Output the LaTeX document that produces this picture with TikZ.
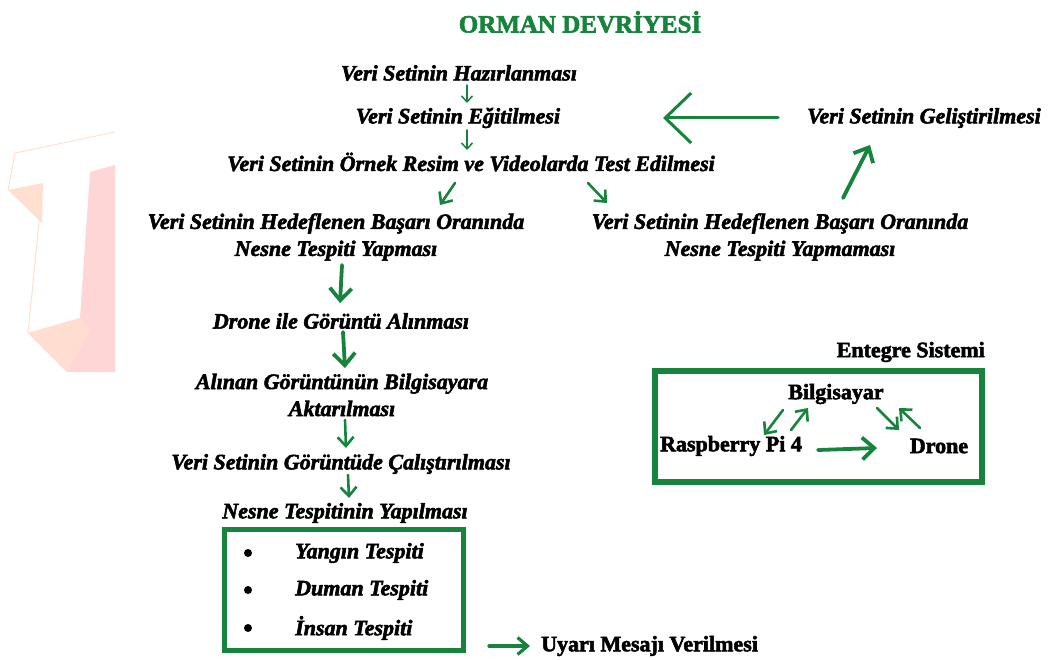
\documentclass[tikz,border=0pt]{standalone}
\usepackage{fontspec}
\setmainfont{Liberation Serif}[BoldFeatures={FakeBold=2.4},BoldItalicFeatures={FakeBold=2.4}]
\usetikzlibrary{arrows.meta,calc}
\definecolor{dgreen}{RGB}{22,132,60}
\definecolor{wmpink}{RGB}{255,214,214}
\definecolor{wmpeach}{RGB}{255,224,208}
\begin{document}
\begin{tikzpicture}[x=1pt,y=-1pt,
  txt/.style={font=\fontsize{22}{27}\selectfont\bfseries\itshape, inner sep=0pt, align=center},
  utxt/.style={font=\fontsize{22}{27}\selectfont\bfseries, inner sep=0pt},
  thinarr/.style={draw=dgreen, line width=1.5pt, line cap=round, -{Straight Barb[length=6pt,width=11pt]}},
  medarr/.style={draw=dgreen, line width=2.6pt, line cap=round, -{Straight Barb[length=9pt,width=16pt]}},
  thickarr/.style={draw=dgreen, line width=3.8pt, line cap=round, -{Straight Barb[length=12pt,width=22pt]}},
  bigarr/.style={draw=dgreen, line width=3pt, line cap=round, -{Straight Barb[length=26pt,width=50pt]}},
  gbox/.style={draw=dgreen, inner sep=0pt},
  bul/.style={circle, fill=black, inner sep=0pt, minimum size=8pt}
]
\useasboundingbox (0,0) rectangle (1051,660);
% watermark
\fill[wmpink] (90,172) -- (115,165) -- (115,372) -- (67,372) -- (28,333) -- (80,318) -- cycle;
\fill[wmpeach] (8,190) -- (43,183) -- (42,223) -- cycle;
\fill[wmpeach, opacity=0.8] (28,333) -- (80,318) -- (90,330) -- (67,372) -- cycle;
\draw[wmpeach, line width=1pt] (8,190) -- (15,153) -- (115,132);
\draw[wmpeach, line width=1pt] (43,183) -- (28,333);

% title
\node[utxt, text=dgreen, font=\fontsize{25}{30}\selectfont\bfseries] (title) at (580,22) {ORMAN DEVRİYESİ};

% main flow
\node[txt] (n1) at (459,73) {Veri Setinin Hazırlanması};
\node[txt] (n2) at (458,118) {Veri Setinin Eğitilmesi};
\node[txt] (n3) at (471,162) {Veri Setinin Örnek Resim ve Videolarda Test Edilmesi};
\node[txt] (L) at (336,237) {Veri Setinin Hedeflenen Başarı Oranında\\Nesne Tespiti Yapması};
\node[txt] (R) at (780,237) {Veri Setinin Hedeflenen Başarı Oranında\\Nesne Tespiti Yapmaması};
\node[txt] (D) at (341,321) {Drone ile Görüntü Alınması};
\node[txt] (A) at (342,395) {Alınan Görüntünün Bilgisayara\\Aktarılması};
\node[txt] (C) at (341,464) {Veri Setinin Görüntüde Çalıştırılması};
\node[txt] (N) at (345,513) {Nesne Tespitinin Yapılması};
\node[txt] (G) at (924,118) {Veri Setinin Geliştirilmesi};

\draw[thinarr] ($(n1)+(8,12)$) -- ($(n2)+(9,-15)$);
\draw[thinarr] ($(n2)+(9,12)$) -- ($(n3)+(-4,-12)$);
\draw[medarr] ($(n3)+(-16,21)$) -- ($(L)+(104,-32)$);
\draw[medarr] ($(n3)+(117,21)$) -- ($(R)+(-173,-34)$);
\draw[thickarr] ($(L)+(6,28)$) -- ($(D)+(-1,-18)$);
\draw[thickarr] ($(D)+(2,11)$) -- ($(A)+(3,-27)$);
\draw[medarr] ($(A)+(3,25)$) -- ($(C)+(5,-16)$);
\draw[medarr] ($(C)+(7,11)$) -- ($(N)+(4,-15)$);
\draw[thickarr] ($(R)+(63,-39)$) -- ($(G)+(-54,27)$);
\draw[bigarr] ($(G)+(-146,0)$) -- ($(n2)+(205,0)$);

% detection box
\node[gbox, line width=5pt, minimum width=239pt, minimum height=121pt] (box) at (344,590) {};
\node[bul] (b1) at (248,553) {};
\node[bul] (b2) at (248,590) {};
\node[bul] (b3) at (248,628) {};
\node[txt, anchor=west] (y1) at (295,553) {Yangın Tespiti};
\node[txt, anchor=west] (y2) at (295,590) {Duman Tespiti};
\node[txt, anchor=west] (y3) at (295,628) {İnsan Tespiti};

\node[utxt, anchor=west] (U) at (541,646) {Uyarı Mesajı Verilmesi};
\draw[draw=dgreen, line width=3.2pt, line cap=round, -{Straight Barb[length=10pt,width=17pt]}] ($(box.east)+(23,56)$) -- ($(U.west)+(-11,0)$);

% integrated system
\node[utxt, anchor=east] (E) at (985,352) {Entegre Sistemi};
\node[gbox, line width=6pt, minimum width=327pt, minimum height=111pt] (ebox) at (818.5,426.5) {};
\node[utxt] (B) at (836,394) {Bilgisayar};
\node[utxt] (Rp) at (731,446) {Raspberry Pi 4};
\node[utxt] (Dr) at (939,446) {Drone};

\draw[medarr] ($(B)+(-53,16)$) -- ($(Rp)+(33,-11)$);
\draw[medarr] ($(Rp)+(60,-16)$) -- ($(B)+(-28,14)$);
\draw[medarr] ($(B)+(41,14)$) -- ($(Dr)+(-40,-16)$);
\draw[medarr] ($(Dr)+(-19,-18)$) -- ($(B)+(63,14)$);
\draw[thickarr] ($(Rp)+(87,4)$) -- ($(Dr)+(-62,2)$);
\end{tikzpicture}
\end{document}
